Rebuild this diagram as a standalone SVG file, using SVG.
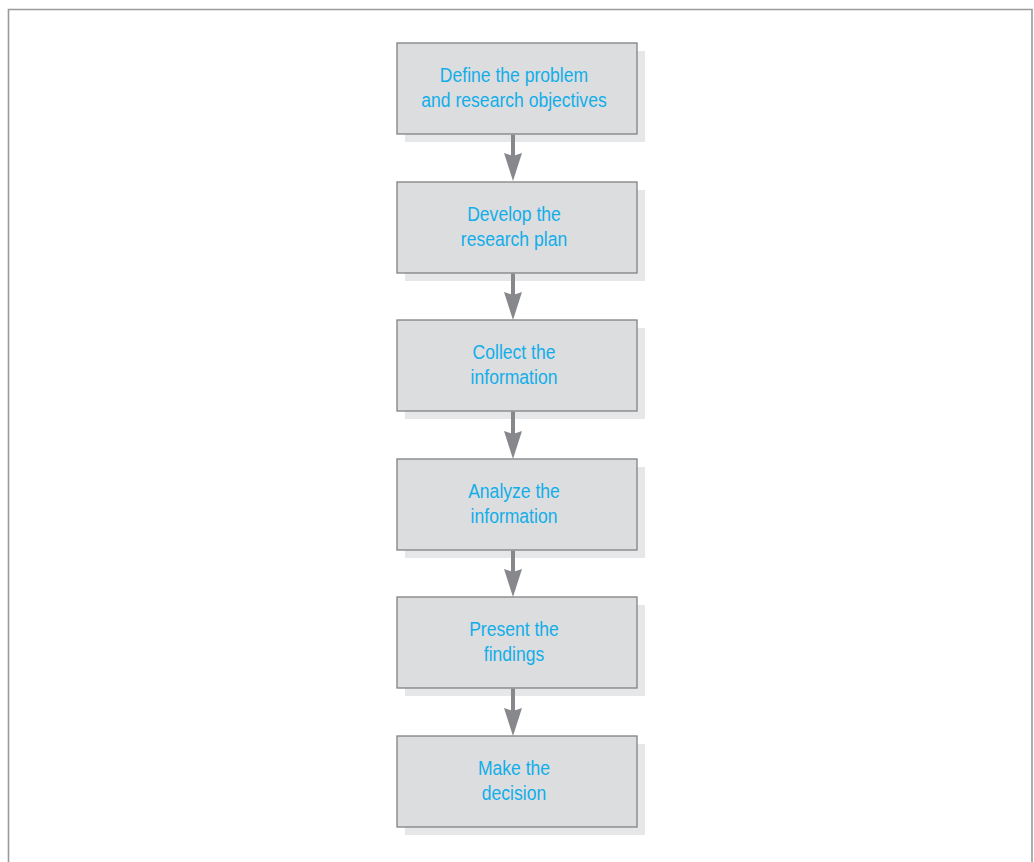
<svg xmlns="http://www.w3.org/2000/svg" width="1034" height="862" viewBox="0 0 1034 862">
  <style>
    .frame { fill: none; stroke: #9a9a9a; stroke-width: 1.6; }
    .shadow { fill: #e6e7e8; }
    .box { fill: #dcdddf; stroke: #808183; stroke-width: 1.3; }
    .label { font-family: "Liberation Sans", Arial, sans-serif; font-size: 19.5px; fill: #12aee9; text-anchor: middle; }
    .link { stroke: #87888b; stroke-width: 4; fill: none; }
    .head { fill: #87888b; }
  </style>
  <defs>
    <g id="arrowhead">
      <path class="head" d="M-9,0 L0,3 L9,0 L0,28 Z"/>
    </g>
  </defs>

  <path class="frame" d="M8.5,862 V9.5 H1032 V862"/>

  <!-- labels are set in a narrowed sans: x is scaled by 0.9 around the box centre (514) -->
  <g id="define">
    <rect class="shadow" x="405" y="51" width="240" height="91"/>
    <rect class="box" x="397" y="43" width="240" height="91"/>
    <g transform="translate(514,0) scale(0.9,1)">
      <text class="label" x="0" y="82">Define the problem</text>
      <text class="label" x="0" y="107">and research objectives</text>
    </g>
  </g>

  <g id="plan">
    <rect class="shadow" x="405" y="190" width="240" height="91"/>
    <rect class="box" x="397" y="182" width="240" height="91"/>
    <g transform="translate(514,0) scale(0.9,1)">
      <text class="label" x="0" y="221">Develop the</text>
      <text class="label" x="0" y="246">research plan</text>
    </g>
  </g>

  <g id="collect">
    <rect class="shadow" x="405" y="328" width="240" height="91"/>
    <rect class="box" x="397" y="320" width="240" height="91"/>
    <g transform="translate(514,0) scale(0.9,1)">
      <text class="label" x="0" y="359">Collect the</text>
      <text class="label" x="0" y="384">information</text>
    </g>
  </g>

  <g id="analyze">
    <rect class="shadow" x="405" y="467" width="240" height="91"/>
    <rect class="box" x="397" y="459" width="240" height="91"/>
    <g transform="translate(514,0) scale(0.9,1)">
      <text class="label" x="0" y="498">Analyze the</text>
      <text class="label" x="0" y="523">information</text>
    </g>
  </g>

  <g id="present">
    <rect class="shadow" x="405" y="605" width="240" height="91"/>
    <rect class="box" x="397" y="597" width="240" height="91"/>
    <g transform="translate(514,0) scale(0.9,1)">
      <text class="label" x="0" y="636">Present the</text>
      <text class="label" x="0" y="661">findings</text>
    </g>
  </g>

  <g id="decide">
    <rect class="shadow" x="405" y="744" width="240" height="91"/>
    <rect class="box" x="397" y="736" width="240" height="91"/>
    <g transform="translate(514,0) scale(0.9,1)">
      <text class="label" x="0" y="775">Make the</text>
      <text class="label" x="0" y="800">decision</text>
    </g>
  </g>

  <!-- connectors drawn last so the stems sit over the box shadows -->
  <g id="connectors">
    <line class="link" x1="513" y1="134.5" x2="513" y2="160"/>
    <use href="#arrowhead" x="513" y="153"/>
    <line class="link" x1="513" y1="273.5" x2="513" y2="299"/>
    <use href="#arrowhead" x="513" y="292"/>
    <line class="link" x1="513" y1="411.5" x2="513" y2="438"/>
    <use href="#arrowhead" x="513" y="431"/>
    <line class="link" x1="513" y1="550.5" x2="513" y2="576"/>
    <use href="#arrowhead" x="513" y="569"/>
    <line class="link" x1="513" y1="688.5" x2="513" y2="715"/>
    <use href="#arrowhead" x="513" y="708"/>
  </g>
</svg>
